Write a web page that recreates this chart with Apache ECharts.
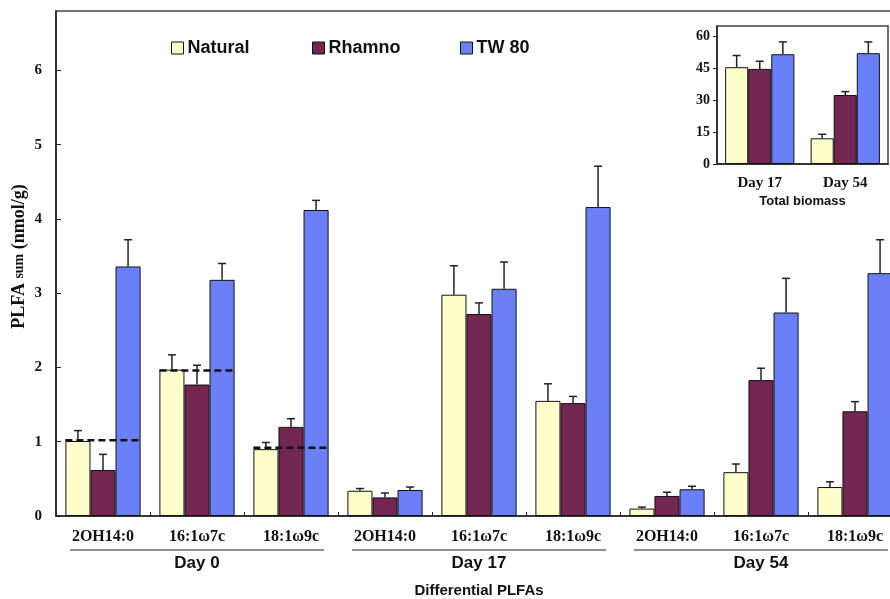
<!DOCTYPE html>
<html><head><meta charset="utf-8">
<script src="https://cdn.jsdelivr.net/npm/echarts@6/dist/echarts.min.js"></script>
<style>html,body{margin:0;padding:0;background:#fff;}#c{width:890px;height:599px;}</style>
</head><body><div id="c"></div>
<script>
// ---- data ----
var days = ['Day 0', 'Day 17', 'Day 54'];
var acids = ['2OH14:0', '16:1\u03c97c', '18:1\u03c99c'];
var seriesNames = ['Natural', 'Rhamno', 'TW 80'];
// main values (per day x acid, order Day0[3], Day17[3], Day54[3])
var naturalVals = [1.01, 1.97, 0.90, 0.34, 2.98, 1.55, 0.10, 0.59, 0.39];
var rhamnoVals  = [0.62, 1.77, 1.20, 0.25, 2.72, 1.52, 0.27, 1.83, 1.41];
var tw80Vals    = [3.36, 3.18, 4.12, 0.35, 3.06, 4.16, 0.36, 2.74, 3.27];
// error bar tops
var naturalErr = [1.15, 2.17, 0.99, 0.37, 3.37, 1.78, 0.12, 0.70, 0.46];
var rhamnoErr  = [0.83, 2.03, 1.31, 0.31, 2.87, 1.61, 0.32, 1.99, 1.54];
var tw80Err    = [3.72, 3.40, 4.25, 0.39, 3.42, 4.71, 0.40, 3.20, 3.72];
// dashed reference lines (Day 0)
var refLine = [1.02, 1.96, 0.92];
// inset: total biomass
var insetDays = ['Day 17', 'Day 54'];
var insetNatural = [45.6, 12.1];
var insetRhamno  = [44.8, 32.5];
var insetTw80    = [51.7, 52.2];
var insetNaturalErr = [51.1, 14.0];
var insetRhamnoErr  = [48.4, 34.1];
var insetTw80Err    = [57.5, 57.5];
var mainTicks = {min: 0, max: 6.8, interval: 1};
var insetTicks = {min: 0, max: 65, interval: 15};

var colors = ['#FFFFCC', '#722651', '#6B80F7'];
var categories = [];
days.forEach(function (d) { acids.forEach(function (a) { categories.push(a + '|' + d); }); });

var serif = '"Liberation Serif", "Times New Roman", serif';
var sans = '"Liberation Sans", Arial, sans-serif';

function errRender(idx, gapFrac) {
  return function (params, api) {
    var base = api.coord([api.value(0), api.value(1)]);
    var top = api.coord([api.value(0), api.value(2)]);
    var bw = api.size([1, 0])[0];
    var barW = bw * (1 - gapFrac) / 3;
    var x = base[0] + (idx - 1) * barW;
    var st = {stroke: '#222', lineWidth: 1.5};
    return {type: 'group', children: [
      {type: 'line', shape: {x1: x, y1: base[1], x2: x, y2: top[1]}, style: st},
      {type: 'line', shape: {x1: x - 4, y1: top[1], x2: x + 4, y2: top[1]}, style: st}
    ]};
  };
}
function errData(vals, errs) {
  return vals.map(function (v, i) { return [i, v, errs[i]]; });
}

var series = [];
var mainVals = [naturalVals, rhamnoVals, tw80Vals];
var mainErrs = [naturalErr, rhamnoErr, tw80Err];
var insVals = [insetNatural, insetRhamno, insetTw80];
var insErrs = [insetNaturalErr, insetRhamnoErr, insetTw80Err];
for (var s = 0; s < 3; s++) {
  series.push({
    name: seriesNames[s], type: 'bar', xAxisIndex: 0, yAxisIndex: 0,
    data: mainVals[s], barGap: '0%', barCategoryGap: '20%',
    itemStyle: {color: colors[s], borderColor: '#111', borderWidth: 1},
    emphasis: {disabled: true}
  });
}
for (var s2 = 0; s2 < 3; s2++) {
  series.push({
    name: seriesNames[s2], type: 'bar', xAxisIndex: 2, yAxisIndex: 1,
    data: insVals[s2], barGap: '0%', barCategoryGap: '19%',
    itemStyle: {color: colors[s2], borderColor: '#111', borderWidth: 1},
    emphasis: {disabled: true}
  });
}
for (var e = 0; e < 3; e++) {
  series.push({
    type: 'custom', xAxisIndex: 0, yAxisIndex: 0, z: 5,
    renderItem: errRender(e, 0.2), data: errData(mainVals[e], mainErrs[e]),
    encode: {x: 0, y: [1, 2]}, silent: true
  });
  series.push({
    type: 'custom', xAxisIndex: 2, yAxisIndex: 1, z: 5,
    renderItem: errRender(e, 0.19), data: errData(insVals[e], insErrs[e]),
    encode: {x: 0, y: [1, 2]}, silent: true
  });
}
// dashed reference lines
series.push({
  type: 'custom', xAxisIndex: 0, yAxisIndex: 0, z: 6, silent: true,
  data: refLine.map(function (v, i) { return [i, v]; }),
  encode: {x: 0, y: 1},
  renderItem: function (params, api) {
    var c = api.coord([api.value(0), api.value(1)]);
    var bw = api.size([1, 0])[0];
    return {type: 'line', shape: {x1: c[0] - 0.4 * bw, y1: c[1], x2: c[0] + 0.42 * bw, y2: c[1]},
      style: {stroke: '#111', lineWidth: 2.5, lineDash: [7, 4]}};
  }
});
// day group underlines
series.push({
  type: 'custom', xAxisIndex: 1, yAxisIndex: 0, z: 6, silent: true, clip: false,
  data: days.map(function (d, i) { return [i, 0]; }),
  encode: {x: 0, y: 1},
  renderItem: function (params, api) {
    var c = api.coord([api.value(0), 0]);
    var bw = api.size([1, 0])[0];
    return {type: 'line', shape: {x1: c[0] - 0.45 * bw, y1: c[1] + 34, x2: c[0] + 0.45 * bw, y2: c[1] + 34},
      style: {stroke: '#222', lineWidth: 1.2}};
  }
});

function legendAt(name, left) {
  return {
    show: true, data: [name], left: left, top: 34, itemWidth: 12, itemHeight: 12, itemGap: 6,
    icon: 'rect', selectedMode: false,
    itemStyle: {borderColor: '#111', borderWidth: 1},
    textStyle: {fontFamily: sans, fontWeight: 'bold', fontSize: 18, color: '#111', padding: [0, 0, 0, -1]}
  };
}

var option = {
  animation: false,
  backgroundColor: '#fff',
  legend: [legendAt('Natural', 166), legendAt('Rhamno', 307), legendAt('TW 80', 455)],
  grid: [
    {left: 56, top: 11, width: 846, height: 505, show: true, borderColor: '#444', borderWidth: 1.5,
      backgroundColor: 'transparent', outerBoundsMode: 'none', containLabel: false},
    {left: 717, top: 26, width: 171, height: 138, show: true, borderColor: '#444', borderWidth: 1.5,
      backgroundColor: 'transparent', outerBoundsMode: 'none', containLabel: false}
  ],
  xAxis: [
    {type: 'category', gridIndex: 0, data: categories,
      axisLine: {lineStyle: {color: '#222', width: 1.5}},
      axisTick: {show: true, inside: true, length: 4, lineStyle: {color: '#222'}},
      axisLabel: {formatter: function (v) { return v.split('|')[0]; }, margin: 13,
        fontFamily: serif, fontWeight: 'bold', fontSize: 16, color: '#111'}},
    {type: 'category', gridIndex: 0, data: days, position: 'bottom', offset: 30,
      axisLine: {show: false}, axisTick: {show: false},
      axisLabel: {margin: 9, fontFamily: sans, fontWeight: 'bold', fontSize: 17, color: '#111'},
      name: 'Differential PLFAs', nameLocation: 'middle', nameGap: 37,
      nameTextStyle: {fontFamily: sans, fontWeight: 'bold', fontSize: 15, color: '#111'}},
    {type: 'category', gridIndex: 1, data: insetDays,
      axisLine: {lineStyle: {color: '#222', width: 1.5}}, axisTick: {show: false},
      axisLabel: {margin: 12, fontFamily: serif, fontWeight: 'bold', fontSize: 15, color: '#111'},
      name: 'Total biomass', nameLocation: 'middle', nameGap: 31,
      nameTextStyle: {fontFamily: sans, fontWeight: 'bold', fontSize: 13, color: '#111'}}
  ],
  yAxis: [
    {type: 'value', gridIndex: 0, min: mainTicks.min, max: mainTicks.max, interval: mainTicks.interval,
      splitLine: {show: false},
      axisLine: {show: true, lineStyle: {color: '#222', width: 1.5}},
      axisTick: {show: true, inside: true, length: 5, lineStyle: {color: '#222'}},
      axisLabel: {showMaxLabel: false, margin: 14, fontFamily: serif, fontWeight: 'bold', fontSize: 15, color: '#111'},
      name: '{a|PLFA }{b|sum}{a| (nmol/g)}', nameLocation: 'middle', nameGap: 28, nameRotate: 90,
      nameMoveOverlap: false,
      nameTextStyle: {padding: [0, 0, 0, 14], rich: {
        a: {fontFamily: serif, fontWeight: 'bold', fontSize: 18, color: '#111'},
        b: {fontFamily: serif, fontWeight: 'bold', fontSize: 14, color: '#111'}}}},
    {type: 'value', gridIndex: 1, min: insetTicks.min, max: insetTicks.max, interval: insetTicks.interval,
      splitLine: {show: false},
      axisLine: {show: true, lineStyle: {color: '#222', width: 1.5}},
      axisTick: {show: true, length: 4, lineStyle: {color: '#222'}},
      axisLabel: {showMaxLabel: false, margin: 7, fontFamily: serif, fontWeight: 'bold', fontSize: 14, color: '#111'}}
  ],
  series: series
};
var chart = echarts.init(document.getElementById('c'), null, {renderer: 'canvas'});
chart.setOption(option);
</script></body></html>
